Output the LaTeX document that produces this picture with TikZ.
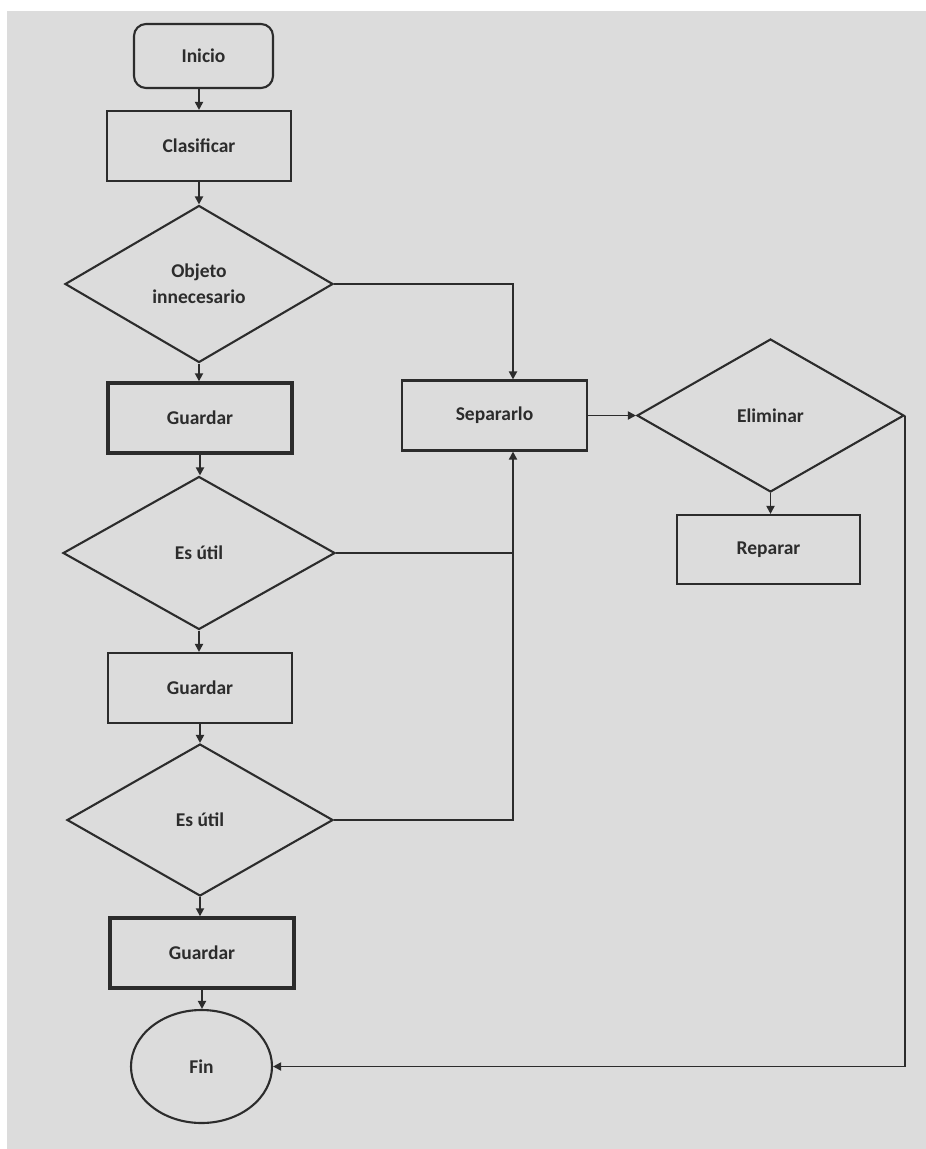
\documentclass[tikz,border=0pt]{standalone}
\usepackage{fontspec}
\setmainfont{Carlito}
\usetikzlibrary{shapes.geometric,arrows.meta}
\definecolor{panel}{HTML}{DCDCDC}
\definecolor{ink}{HTML}{2C2C2C}
\begin{document}
\begin{tikzpicture}[x=1pt,y=-1pt,
  base/.style={draw=ink,line width=2.1pt,text=ink,font=\fontsize{19.5}{26}\selectfont\bfseries,
    align=center,inner sep=0pt},
  startbox/.style={base,rounded corners=12pt,minimum width=139pt,minimum height=64pt},
  procbox/.style={base,rectangle,minimum width=184pt,minimum height=70pt},
  heavybox/.style={procbox,line width=3.4pt},
  decision/.style={base,diamond},
  endnode/.style={base,ellipse,minimum width=141pt,minimum height=113pt},
  link/.style={draw=ink,line width=1.8pt},
  arr/.style={link,-{Triangle[length=8pt,width=8pt]}}]

% page and panel
\fill[white] (0,0) rectangle (926,1149);
\fill[panel] (7,11) rectangle (926,1149);
\useasboundingbox (0,0) rectangle (926,1149);

% main column
\node[startbox] (inicio) at (203.5,56) {Inicio};
\node[procbox] (clas) at (199,146) {Clasificar};
\node[decision,minimum width=268pt,minimum height=157pt] (obj) at (199,284) {Objeto\\innecesario};
\node[heavybox] (g1) at (200,418) {Guardar};
\node[decision,minimum width=272pt,minimum height=153pt] (util1) at (199,553) {Es útil};
\node[procbox] (g2) at (200,688) {Guardar};
\node[decision,minimum width=266pt,minimum height=152pt] (util2) at (200,820) {Es útil};
\node[heavybox] (g3) at (202,953) {Guardar};
\node[endnode] (fin) at (201.5,1066.5) {Fin};

% right branch
\node[procbox,minimum width=185pt] (sep) at (494.5,415.5) {Separarlo};
\node[decision,minimum width=267pt,minimum height=153pt] (elim) at (770.5,415.5) {Eliminar};
\node[procbox,minimum width=183pt,minimum height=69pt] (rep) at (768.5,549.5) {Reparar};

\coordinate (col) at (513,0);

% main flow
\draw[arr] (inicio.south -| clas.north) -- (clas.north);
\draw[arr] (clas.south) -- (clas.south |- obj.north);
\draw[arr] (obj.south) -- (obj.south |- g1.north);
\draw[arr] (g1.south) -- (g1.south |- util1.north);
\draw[arr] (util1.south) -- (util1.south |- g2.north);
\draw[arr] (g2.south) -- (g2.south |- util2.north);
\draw[arr] (util2.south) -- (util2.south |- g3.north);
\draw[arr] (g3.south) -- (g3.south |- fin.north);

% branches to Separarlo
\draw[arr] (obj.east) -| (col |- sep.north);
\draw[link] (util1.east) -- (col |- util1.east);
\draw[arr] (util2.east) -| (col |- sep.south);

% right side
\draw[arr] (sep.east) -- (sep.east -| elim.west);
\draw[arr] (elim.south) -- (elim.south |- rep.north);
\draw[arr] (elim.east) |- (fin.east);
\end{tikzpicture}
\end{document}
